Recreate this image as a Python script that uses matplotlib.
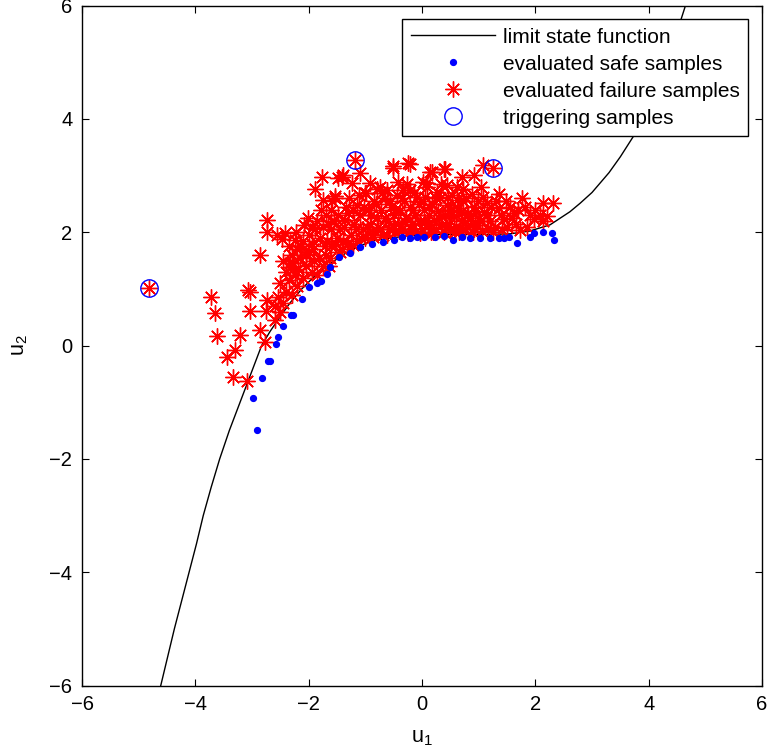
import matplotlib
matplotlib.use('Agg')
import matplotlib.pyplot as plt

plt.rcParams['font.family'] = ['Liberation Sans', 'DejaVu Sans']

# limit state curve
lsf_u1 = [-4.61, -4.49, -4.37, -4.24, -4.11, -3.98, -3.86, -3.72, -3.57, -3.40, -3.21, -3.02,
          -2.83, -2.68, -2.51, -2.33, -2.12, -1.90, -1.60, -1.27, -0.90, -0.60, -0.30, 0.00,
          0.40, 0.80, 1.20, 1.55, 1.90, 2.26, 2.61, 2.79, 3.00, 3.30, 3.50, 3.73, 4.00, 4.30,
          4.65]
lsf_u2 = [-6.00, -5.50, -5.00, -4.50, -4.00, -3.50, -3.00, -2.50, -2.00, -1.50, -1.00, -0.50,
          0.00, 0.25, 0.50, 0.75, 1.00, 1.22, 1.46, 1.68, 1.84, 1.89, 1.93, 1.95,
          1.96, 1.96, 1.96, 1.97, 2.02, 2.13, 2.36, 2.51, 2.70, 3.05, 3.33, 3.69, 4.21, 4.91,
          6.00]

# evaluated safe samples (blue dots)
safe_u1 = [-2.91, -2.98, -2.82, -2.71, -2.68, -2.58, -2.55, -2.46, -2.31, -2.28, -2.11, -1.99,
           -1.85, -1.79, -1.68, -1.62, -1.46, -1.27, -1.09, -0.89, -0.69, -0.50, -0.36, -0.22,
           -0.09, 0.04, 0.23, 0.38, 0.55, 0.70, 0.85, 1.02, 1.20, 1.35, 1.45, 1.54, 1.68, 1.91,
           1.98, 2.14, 2.29, 2.33]
safe_u2 = [-1.49, -0.93, -0.58, -0.27, -0.27, 0.02, 0.15, 0.34, 0.53, 0.53, 0.82, 1.03,
           1.10, 1.14, 1.27, 1.39, 1.57, 1.63, 1.74, 1.80, 1.82, 1.86, 1.92, 1.90,
           1.92, 1.92, 1.92, 1.93, 1.87, 1.91, 1.89, 1.89, 1.89, 1.89, 1.89, 1.92, 1.81, 1.92,
           1.98, 2.01, 1.99, 1.87]

# evaluated failure samples (red stars)
fail_u1 = [-4.81, -3.72, -3.66, -3.62, -3.22, -3.30, -3.45, -3.34, -3.08, -3.07, -3.03, -3.04,
           -2.86, -2.74, -2.74, -2.73, -2.75, -2.86, -2.77, -2.59, -2.51, -2.51, -2.33, -2.33,
           -2.42, -2.24, -2.56, -2.47,
           -2.45, -2.40, -2.35, -2.30, -2.25, -2.20, -2.18, -2.15, -2.10, -2.09, -2.05, -2.00,
           -1.95, -1.95, -1.95, -1.90, -1.89, -1.85, -1.80, -1.77, -1.74, -1.74, -1.70, -1.65,
           -1.60, -1.60, -1.54, -1.54, -1.50, -1.48, -1.45, -1.39, -1.42, -1.36, -1.30, -1.30,
           -1.24, -1.21, -1.18, -1.15, -1.09, -1.00, -0.98, -0.92, -0.80, -0.74, -0.62, -0.51,
           -0.51, -0.42, -0.33, -0.24, -0.22, -0.21, 0.02, 0.08, 0.14, 0.17, 0.26, 0.41,
           0.38, 0.44, 0.49, 0.61, 0.70, 0.73, 0.82, 0.91, 0.91, 0.97, 1.04, 1.08,
           1.14, 1.17, 1.25, 1.35, 1.36, 1.41, 1.45, 1.62, 1.73, 1.76, 1.81, 1.97,
           2.08, 2.13, 2.14, 2.31,
           -1.45, -1.40, -1.35, -1.25, -1.20, -1.15, -1.10, -1.05, -1.00, -0.95, -0.92, -0.88,
           -0.85, -0.80, -0.75, -0.72, -0.68, -0.65, -0.60, -0.58, -0.55, -0.50, -0.48, -0.45,
           -0.42, -0.38, -0.35, -0.32, -0.28, -0.25, -0.22, -0.18, -0.15, -0.12, -0.10, -0.06,
           -0.03, 0.00, 0.03, 0.06, 0.10, 0.12, 0.15, 0.18, 0.22, 0.25, 0.28, 0.32,
           0.35, 0.38, 0.40, 0.44, 0.47, 0.50, 0.53, 0.56, 0.60, 0.63, 0.66, 0.70,
           0.73, 0.76, 0.80, 0.84, 0.88, 0.90, 0.94, 1.00, 1.05, 1.10, 1.20, 1.25,
           1.30, 1.50, 1.55, 1.65, 1.85, 2.00, 2.20, -1.70, -1.60, -1.55, -1.85, -2.00,
           -2.20, -2.30, -2.40, -2.55, -2.60, -2.45, -2.10, -1.75, -1.68,
           -2.35, -2.28, -2.22, -2.15, -2.05, -2.02, -1.92, -1.88, -1.82, -1.78, -1.72, -1.66,
           -1.62, -1.58, -1.52, -1.48, -1.42, -1.38, -1.33, -1.28, -1.22, -1.17, -1.12, -1.08,
           -1.03, -0.97, -0.90, -0.86, -0.82, -0.77, -0.70, -0.66, -0.62, -0.57, -0.52, -0.47,
           -0.40, -0.36, -0.30, -0.26, -0.20, -0.16, -0.08, -0.04, 0.01, 0.05, 0.09, 0.13,
           0.20, 0.24, 0.30, 0.34, 0.42, 0.46, 0.52, 0.58, 0.62, 0.68, 0.72, 0.78,
           0.86, 0.92, 0.98, 1.02, 1.08, 1.15, 1.22, 1.28, 1.40, 1.48, 1.58, 1.70, 1.90]
fail_u2 = [1.02, 0.86, 0.57, 0.17, 0.19, -0.08, -0.20, -0.55, -0.63, 0.98, 0.95, 0.61,
           1.60, 2.22, 2.01, 0.80, 0.61, 0.27, 0.07, 0.45, 0.60, 1.10, 1.45, 1.39,
           1.98, 1.86, 1.95, 1.88,
           0.75, 0.95, 1.15, 0.90, 1.25, 1.05, 1.35, 1.55, 1.20, 2.13, 1.40, 1.65,
           2.07, 1.80, 1.30, 1.50, 2.77, 1.25, 1.90, 2.97, 2.57, 2.10, 1.60, 1.40,
           2.39, 1.75, 2.63, 2.60, 1.90, 2.95, 1.65, 3.01, 2.98, 2.22, 2.33, 1.80,
           2.86, 2.39, 3.27, 2.48, 3.04, 2.69, 2.69, 2.86, 2.77, 2.80, 2.74, 3.13,
           3.16, 2.89, 2.74, 3.22, 3.20, 2.74, 2.89, 2.86, 3.07, 3.07, 2.71, 3.11,
           3.11, 2.83, 2.39, 2.57, 2.98, 2.77, 2.33, 3.01, 2.45, 2.13, 2.80, 3.19,
           2.51, 2.07, 3.13, 2.42, 2.67, 2.04, 2.24, 2.34, 2.04, 2.60, 2.45, 2.23,
           2.30, 2.52, 2.19, 2.52,
           2.05, 1.85, 2.45, 1.95, 2.15, 1.85, 2.30, 2.05, 1.90, 2.40, 2.15, 1.95,
           2.55, 2.25, 2.05, 2.40, 1.95, 2.60, 2.20, 2.05, 2.45, 2.30, 2.00, 2.65,
           2.15, 2.40, 2.05, 2.55, 2.25, 1.98, 2.45, 2.15, 2.70, 2.30, 2.02, 2.50,
           2.20, 2.05, 2.40, 2.62, 2.15, 2.30, 2.00, 2.50, 2.22, 2.05, 2.38, 2.60,
           2.12, 2.00, 2.30, 2.48, 2.15, 2.03, 2.65, 2.28, 2.10, 2.42, 2.00, 2.20,
           2.55, 2.05, 2.30, 2.12, 2.68, 2.00, 2.38, 2.25, 2.02, 2.35, 2.20, 2.00,
           2.55, 2.10, 2.45, 2.15, 2.10, 2.40, 2.28, 2.30, 2.05, 2.20, 2.20, 1.95,
           1.70, 1.60, 1.30, 0.85, 0.70, 1.50, 1.85, 1.40, 1.85,
           1.75, 1.45, 2.00, 1.75, 1.60, 2.25, 1.70, 2.05, 1.55, 2.40, 1.75, 2.15,
           1.55, 2.55, 1.80, 2.30, 1.70, 2.10, 1.80, 2.60, 1.78, 2.05, 2.65, 1.90,
           2.45, 2.10, 2.30, 1.92, 2.50, 2.10, 2.70, 2.25, 1.95, 2.55, 2.12, 2.40,
           2.02, 2.60, 2.18, 2.85, 2.05, 2.40, 2.62, 1.98, 2.55, 2.18, 2.80, 2.45,
           2.00, 2.60, 2.25, 2.85, 2.10, 2.62, 2.38, 2.00, 2.80, 2.35, 2.05, 2.60,
           2.25, 2.05, 2.55, 2.20, 2.62, 2.30, 2.45, 2.10, 2.30, 2.55, 2.25, 2.40, 2.30]

# triggering samples (blue circles)
trig_u1 = [-4.81, -1.18, 1.25]
trig_u2 = [1.02, 3.27, 3.13]

fig = plt.figure(figsize=(7.71, 7.56), dpi=100)
ax = fig.add_axes([82 / 771, 70.5 / 756, 680 / 771, 680 / 756])

ax.plot(lsf_u1, lsf_u2, color='black', lw=1.0, label='limit state function', zorder=1)
ax.plot(safe_u1, safe_u2, ls='none', marker='o', ms=4.2, color='blue', mec='blue',
        label='evaluated safe samples', zorder=4)
ax.plot(fail_u1, fail_u2, ls='none', marker=(8, 2, 0), ms=11.5, mew=1.0, color='red',
        label='evaluated failure samples', zorder=2)
ax.plot(trig_u1, trig_u2, ls='none', marker='o', ms=12.5, mfc='none', mec='blue', mew=1.0,
        label='triggering samples', zorder=5)

ax.set_xlim(-6, 6)
ax.set_ylim(-6, 6)
ticks = [-6, -4, -2, 0, 2, 4, 6]
tick_text = ['\u22126', '\u22124', '\u22122', '0', '2', '4', '6']
ax.set_xticks(ticks)
ax.set_yticks(ticks)
ax.set_xticklabels(tick_text)
ax.set_yticklabels(tick_text)
ax.tick_params(direction='in', top=True, right=True, length=5, width=0.8,
               labelsize=14.5, pad=7)
for sp in ax.spines.values():
    sp.set_linewidth(1.0)

ax.set_xlabel('$\\mathregular{u_1}$', fontsize=15.5, labelpad=9)
ax.set_ylabel('$\\mathregular{u_2}$', fontsize=15.5, labelpad=14)

leg = ax.legend(loc='upper right', fontsize=15, frameon=True, fancybox=False,
                edgecolor='black', framealpha=1, borderaxespad=0.65, handlelength=4.0,
                handletextpad=0.4, labelspacing=0.38, borderpad=0.42)
leg.get_frame().set_linewidth(1.0)

fig.savefig('out.png', dpi=100)
